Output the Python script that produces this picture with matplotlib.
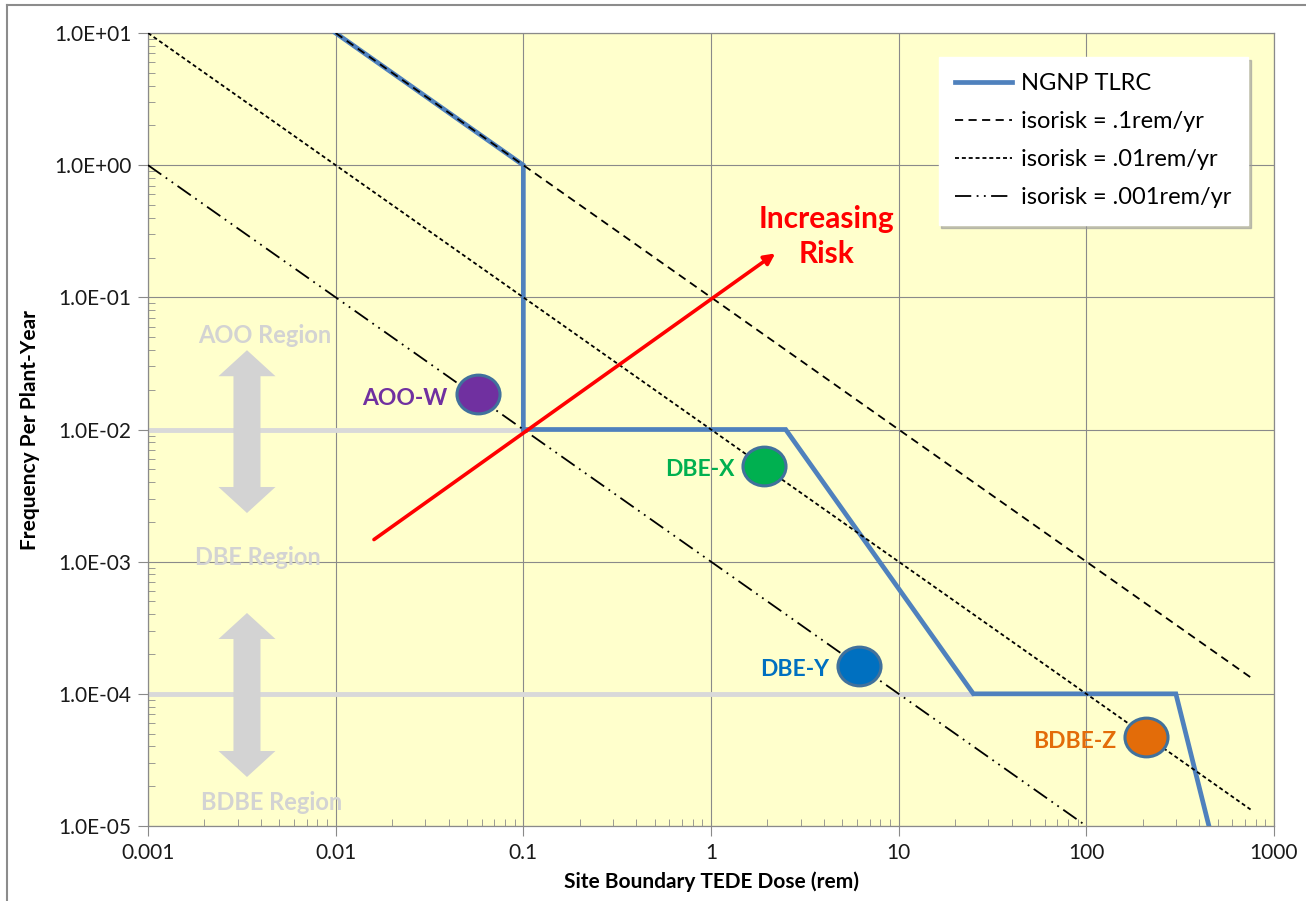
import matplotlib
matplotlib.use("Agg")
import matplotlib.pyplot as plt
from matplotlib.path import Path
from matplotlib.patches import Polygon
from matplotlib.lines import Line2D
from matplotlib.ticker import FixedLocator, LogLocator, NullFormatter
import numpy as np

plt.rcParams['font.family'] = ['Lato', 'DejaVu Sans']

# ---- data ----
tlrc_dose = [0.01, 0.1, 0.1, 2.5, 25, 300, 450]
tlrc_freq = [10, 1, 0.01, 0.01, 1e-4, 1e-4, 1e-5]

aoo_dbe_dose = [0.001, 0.1]
aoo_dbe_freq = [1e-2, 1e-2]
dbe_bdbe_dose = [0.001, 25]
dbe_bdbe_freq = [1e-4, 1e-4]

iso_1_dose = [0.01, 750]
iso_1_freq = [10, 1.333e-4]
iso_01_dose = [0.001, 750]
iso_01_freq = [10, 1.333e-5]
iso_001_dose = [0.001, 100]
iso_001_freq = [1, 1e-5]

risk_dose = [0.016, 2.2]
risk_freq = [1.47e-3, 0.215]

event_names = ["AOO-W", "DBE-X", "DBE-Y", "BDBE-Z"]
event_dose = [0.057, 1.92, 6.15, 209]
event_freq = [0.0184, 0.0053, 1.63e-4, 4.7e-5]
event_colors = ["#7030A0", "#00B050", "#0070C0", "#E36C09"]

x_ticks = [0.001, 0.01, 0.1, 1, 10, 100, 1000]
x_tick_labels = ["0.001", "0.01", "0.1", "1", "10", "100", "1000"]
y_ticks = [1e-5, 1e-4, 1e-3, 1e-2, 1e-1, 1, 10]
y_tick_labels = ["1.0E-05", "1.0E-04", "1.0E-03", "1.0E-02", "1.0E-01", "1.0E+00", "1.0E+01"]

# ---- figure ----
W, H = 1306, 901
fig = plt.figure(figsize=(W / 100, H / 100), dpi=100)
fig.patch.set_facecolor("white")

# outer frame (left and top edges)
fig.add_artist(Line2D([7 / W, 7 / W], [0, 1 - 5 / H], color="#8c8c8c", lw=1.5))
fig.add_artist(Line2D([7 / W, 1], [1 - 5 / H, 1 - 5 / H], color="#8c8c8c", lw=1.5))

L, R, T, B = 148, 1274, 33, 826
ax = fig.add_axes([L / W, 1 - B / H, (R - L) / W, (B - T) / H])
ax.set_facecolor("#FFFFCC")
ax.set_xscale("log")
ax.set_yscale("log")
ax.set_xlim(0.001, 1000)
ax.set_ylim(1e-5, 10)

grid_c = "#8a8a8a"
for s in ax.spines.values():
    s.set_color(grid_c)
    s.set_linewidth(0.9)
ax.grid(True, which="major", color=grid_c, lw=0.8)
ax.set_axisbelow(True)

ax.xaxis.set_major_locator(FixedLocator(x_ticks))
ax.set_xticklabels(x_tick_labels)
ax.yaxis.set_major_locator(FixedLocator(y_ticks))
ax.set_yticklabels(y_tick_labels)
ax.xaxis.set_minor_locator(LogLocator(base=10, subs=np.arange(2, 10)))
ax.yaxis.set_minor_locator(LogLocator(base=10, subs=np.arange(2, 10)))
ax.xaxis.set_minor_formatter(NullFormatter())
ax.yaxis.set_minor_formatter(NullFormatter())
ax.tick_params(which="major", direction="out", length=7, color=grid_c,
               labelsize=15, labelcolor="#1a1a1a", pad=5)
ax.tick_params(which="minor", direction="in", length=5, color=grid_c)

ax.set_xlabel("Site Boundary TEDE Dose (rem)", fontsize=15, fontweight="bold",
              labelpad=6)
ax.set_ylabel("Frequency Per Plant-Year", fontsize=15, fontweight="bold",
              labelpad=10)

# region boundaries
ax.plot(aoo_dbe_dose, aoo_dbe_freq, color="#D9D9D9", lw=3.5, zorder=2,
        solid_capstyle="butt")
ax.plot(dbe_bdbe_dose, dbe_bdbe_freq, color="#D9D9D9", lw=3.5, zorder=2,
        solid_capstyle="butt")

# region labels and double arrows (axes fraction)
reg_c = "#D3D3D3"
for txt, xf, yf in [("AOO Region", 0.1039, 0.619), ("DBE Region", 0.0977, 0.339),
                    ("BDBE Region", 0.110, 0.030)]:
    ax.text(xf, yf, txt, transform=ax.transAxes, ha="center", va="center",
            fontsize=17, fontweight="bold", color=reg_c, zorder=3)


def double_arrow(cx, top, bot):
    sw, hw, hl = 0.012, 0.0253, 0.0328
    pts = [(cx, top), (cx + hw, top - hl), (cx + sw, top - hl), (cx + sw, bot + hl),
           (cx + hw, bot + hl), (cx, bot), (cx - hw, bot + hl), (cx - sw, bot + hl),
           (cx - sw, top - hl), (cx - hw, top - hl)]
    ax.add_patch(Polygon(pts, closed=True, transform=ax.transAxes,
                         facecolor=reg_c, edgecolor="none", zorder=2.5))


double_arrow(0.0879, 0.600, 0.3947)
double_arrow(0.0879, 0.2686, 0.0618)

# limit curve and isorisk lines
ax.plot(tlrc_dose, tlrc_freq, color="#4F81BD", lw=3.4, zorder=4,
        solid_joinstyle="miter", label="NGNP TLRC")
ax.plot(iso_1_dose, iso_1_freq, color="black", lw=1.3, ls=(0, (4.5, 3)), zorder=5,
        label="isorisk = .1rem/yr")
ax.plot(iso_01_dose, iso_01_freq, color="black", lw=1.3, ls=(0, (2.2, 1.6)), zorder=5,
        label="isorisk = .01rem/yr")
ax.plot(iso_001_dose, iso_001_freq, color="black", lw=1.3,
        ls=(0, (9, 3, 1, 3, 1, 3)), zorder=5, label="isorisk = .001rem/yr")

# increasing-risk arrow
ax.annotate("", xy=(risk_dose[1], risk_freq[1]), xytext=(risk_dose[0], risk_freq[0]),
            arrowprops=dict(arrowstyle="-|>", color="#FF0000", lw=2.6,
                            mutation_scale=16, shrinkA=0, shrinkB=0), zorder=6)
ax.text(4.15, 0.29, "Increasing\nRisk", ha="center", va="center", fontsize=21.5,
        fontweight="bold", color="#FF0000", linespacing=1.3, zorder=6)

# events
ell = Path.unit_circle()
ell = Path(ell.vertices * np.array([1.0, 0.9]), ell.codes)
for name, d, f, c in zip(event_names, event_dose, event_freq, event_colors):
    ax.plot([d], [f], marker=ell, markersize=31, markerfacecolor=c,
            markeredgecolor="#41719C", markeredgewidth=2.2, ls="none", zorder=7)
    ax.annotate(name, (d, f), xytext=(-30, -4), textcoords="offset pixels",
                ha="right", va="center", fontsize=16.5, fontweight="bold",
                color=c, zorder=7)

leg = ax.legend(loc="upper right", bbox_to_anchor=(0.977, 0.970), borderaxespad=0,
                fontsize=17, handlelength=2.4, labelspacing=0.72, borderpad=0.7,
                frameon=True, fancybox=False, shadow={"color": "#9a9a9a", "alpha": 0.6},
                edgecolor="white", handletextpad=0.4)
leg.get_frame().set_facecolor("white")
leg.get_frame().set_alpha(1)
leg.set_zorder(10)

fig.savefig("out.png", dpi=100)
